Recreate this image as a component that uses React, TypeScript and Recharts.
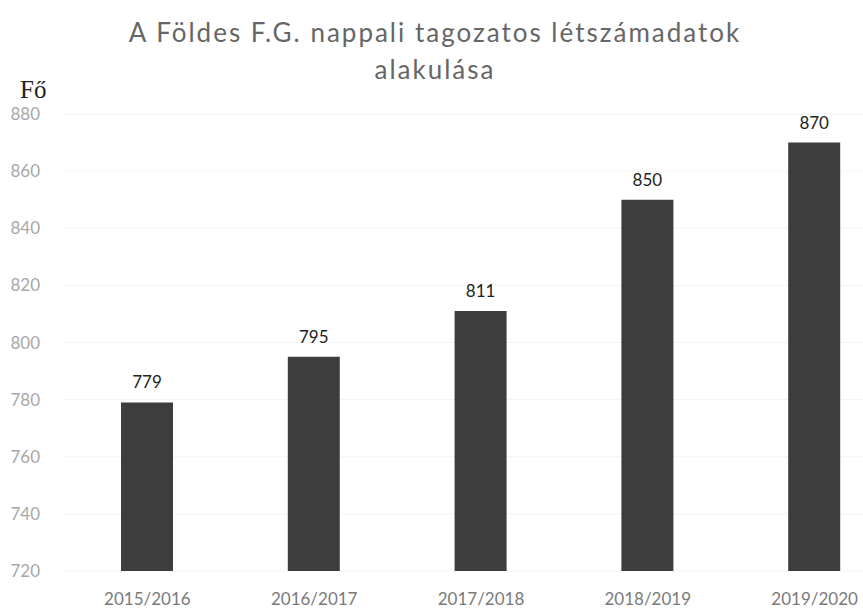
import { BarChart, Bar, XAxis, YAxis, CartesianGrid, LabelList } from "recharts";

const years = ["2015/2016", "2016/2017", "2017/2018", "2018/2019", "2019/2020"];
const students = [779, 795, 811, 850, 870];
const yTicks = [720, 740, 760, 780, 800, 820, 840, 860, 880];

const data = years.map((year, i) => ({ year, value: students[i] }));

const font = "Lato, 'Open Sans', sans-serif";

export default function App() {
  return (
    <div
      style={{
        position: "fixed",
        left: 0,
        top: 0,
        width: 863,
        height: 614,
        overflow: "hidden",
        background: "#fff",
      }}
    >
      <div
        style={{
          position: "absolute",
          left: 0,
          width: 870,
          top: 14,
          textAlign: "center",
          fontFamily: font,
          fontSize: 26,
          letterSpacing: 2,
          lineHeight: "37px",
          color: "#666",
        }}
      >
        A Földes F.G. nappali tagozatos létszámadatok
        <br />
        alakulása
      </div>
      <div
        style={{
          position: "absolute",
          left: 20,
          top: 76,
          fontFamily: "'Liberation Serif', serif",
          fontSize: 25,
          color: "#222",
        }}
      >
        Fő
      </div>
      <BarChart
        width={910}
        height={614}
        data={data}
        margin={{ top: 114, right: 12, bottom: 0, left: 0 }}
        barSize={52}
      >
        <CartesianGrid vertical={false} stroke="#f3f3f3" />
        <XAxis
          dataKey="year"
          axisLine={false}
          tickLine={false}
          height={43}
          tickMargin={16}
          tick={{ fill: "#7a7a7a", fontSize: 17, fontFamily: font }}
        />
        <YAxis
          width={64}
          domain={[720, 880]}
          ticks={yTicks}
          axisLine={false}
          tickLine={false}
          tickMargin={18}
          tick={{ fill: "#a8a8a8", fontSize: 17, fontFamily: font }}
        />
        <Bar dataKey="value" fill="#3d3d3d" isAnimationActive={false}>
          <LabelList
            dataKey="value"
            position="top"
            offset={14}
            fill="#222"
            fontSize={17}
            fontFamily={font}
          />
        </Bar>
      </BarChart>
    </div>
  );
}
